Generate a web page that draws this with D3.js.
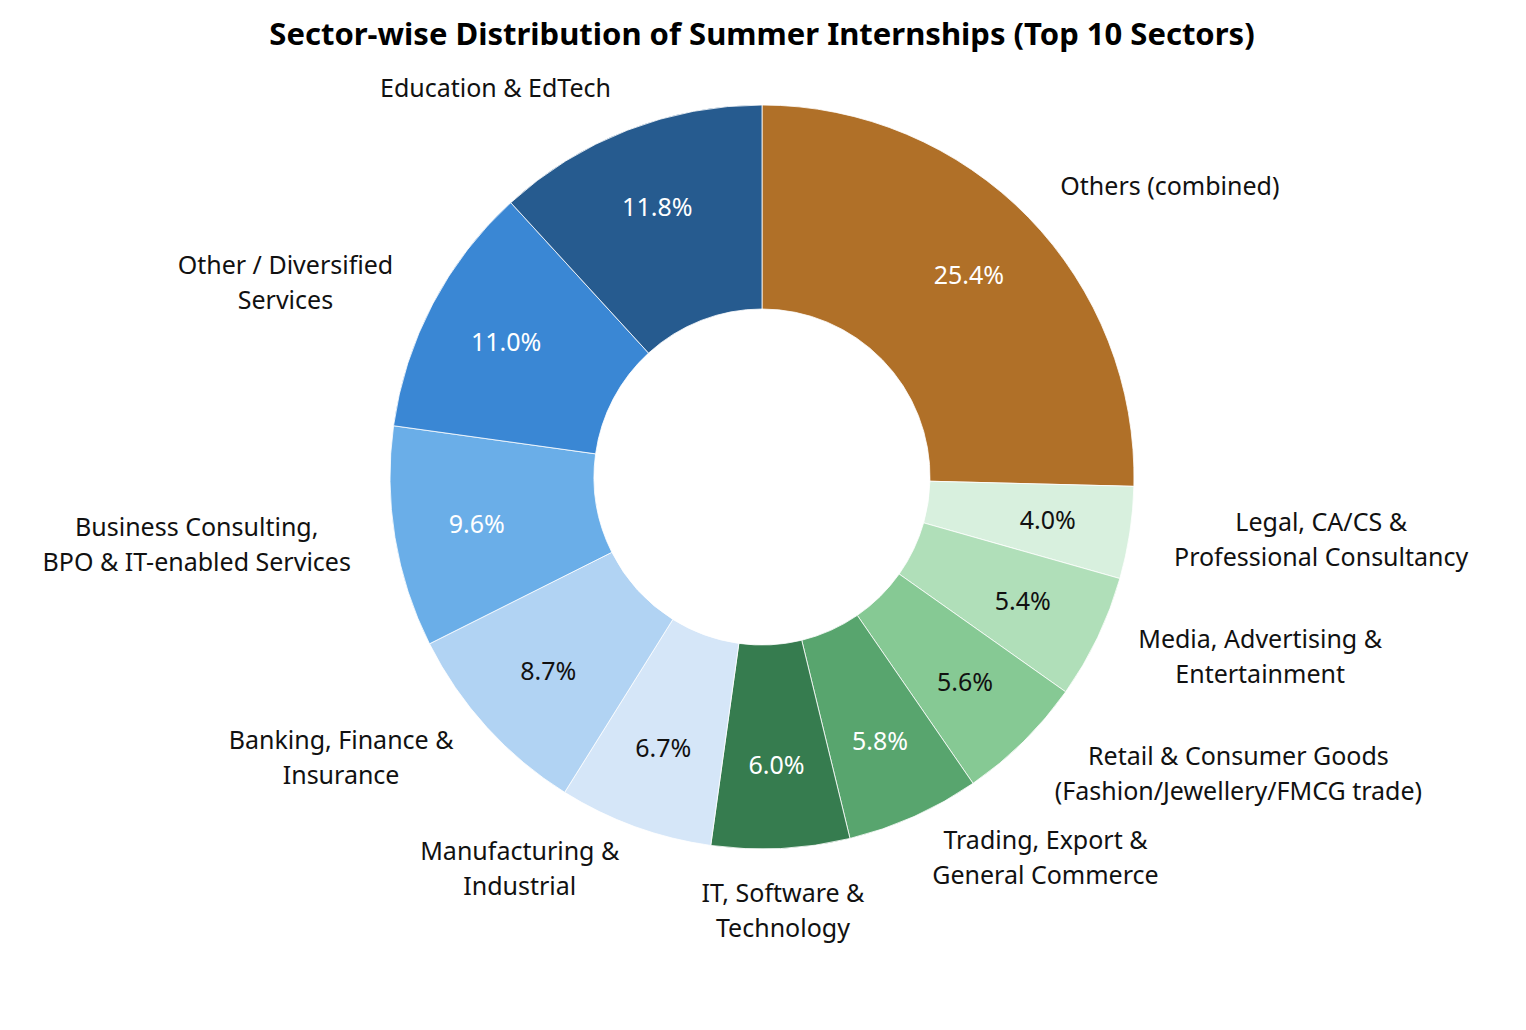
<!DOCTYPE html>
<html><head><meta charset="utf-8">
<script src="https://cdn.jsdelivr.net/npm/d3@7"></script>
<style>body{margin:0;background:#fff;font-family:"Noto Sans",sans-serif}</style>
</head><body>
<script>
// sectors in clockwise order from 12 o'clock
var sectors = ["Others (combined)", "Legal, CA/CS &\nProfessional Consultancy", "Media, Advertising &\nEntertainment",
  "Retail & Consumer Goods\n(Fashion/Jewellery/FMCG trade)", "Trading, Export &\nGeneral Commerce", "IT, Software &\nTechnology",
  "Manufacturing &\nIndustrial", "Banking, Finance &\nInsurance", "Business Consulting,\nBPO & IT-enabled Services",
  "Other / Diversified\nServices", "Education & EdTech"];
var shares = [25.4, 4.0, 5.4, 5.6, 5.8, 6.0, 6.7, 8.7, 9.6, 11.0, 11.8];
var colors = ["#b07028", "#d8f0de", "#b0dfb9", "#86c994", "#58a56e", "#367c4f",
  "#d5e6f8", "#b1d3f3", "#6aaee8", "#3a87d4", "#265b8f"];
var darkText = [true, false, false, false, true, true, false, false, true, true, true];

var cx = 762, cy = 477, r_out = 372, r_in = 168;
var svg = d3.select("body").append("svg").attr("width", 1526).attr("height", 1030);

svg.append("text").attr("x", 762).attr("y", 45).attr("text-anchor", "middle")
  .style("font-size", "31px").style("font-weight", "bold")
  .text("Sector-wise Distribution of Summer Internships (Top 10 Sectors)");

var pie = d3.pie().sort(null).value(function(d){ return d; });
var arcs = pie(shares);
var arc = d3.arc().innerRadius(r_in).outerRadius(r_out);
var g = svg.append("g").attr("transform", "translate(" + cx + "," + cy + ")");

g.selectAll("path").data(arcs).enter().append("path")
  .attr("d", arc).style("fill", function(d, i){ return colors[i]; })
  .style("stroke", "#fff").style("stroke-width", 0.8);

// percentage labels
g.selectAll(".pct").data(arcs).enter().append("text")
  .attr("transform", function(d){
    var a = (d.startAngle + d.endAngle) / 2, rr = 289;
    return "translate(" + (rr * Math.sin(a)) + "," + (-rr * Math.cos(a)) + ")";
  })
  .attr("text-anchor", "middle").attr("dy", "0.35em")
  .style("font-size", "25px")
  .style("fill", function(d, i){ return darkText[i] ? "#fff" : "#111"; })
  .text(function(d){ return d.data.toFixed(1) + "%"; });

// outside labels
var lh = 35;
arcs.forEach(function(d, i){
  var a = (d.startAngle + d.endAngle) / 2, rr = r_out * 1.12;
  var x = rr * Math.sin(a), y = -rr * Math.cos(a);
  var lines = sectors[i].split("\n");
  var t = g.append("text").style("font-size", "25px").style("fill", "#111").attr("text-anchor", "middle");
  lines.forEach(function(l, k){
    t.append("tspan").attr("x", 0).attr("y", (k - (lines.length - 1) / 2) * lh).attr("dy", "0.35em").text(l);
  });
  var w = t.node().getBBox().width;
  var off = Math.abs(x) < 60 ? 0 : (x >= 0 ? w / 2 : -w / 2);
  var yo = Math.abs(x) < 60 ? lh / 2 : 0;
  t.attr("transform", "translate(" + (x + off) + "," + (y + yo) + ")");
});
</script>
</body></html>
